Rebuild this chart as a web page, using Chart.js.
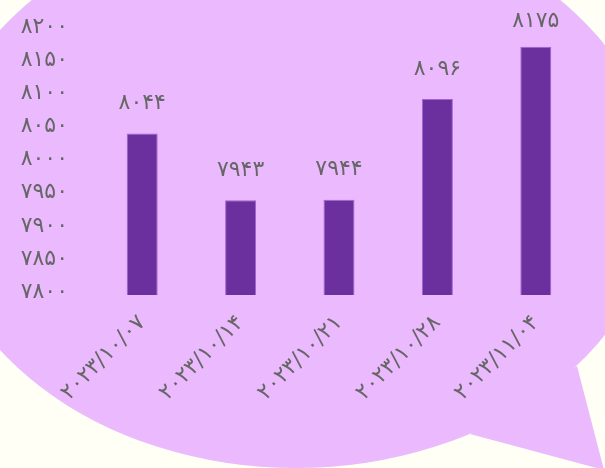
<!DOCTYPE html>
<html>
<head>
<meta charset="utf-8">
<script src="https://cdn.jsdelivr.net/npm/chart.js@4"></script>
<style>
  html, body { margin: 0; padding: 0; background: #fffff5; }
  #wrap { width: 605px; height: 468px; }
</style>
</head>
<body>
<div id="wrap"><canvas id="chart"></canvas></div>
<script>
/* ── Data ── */
const dates = ['۲۰۲۳/۱۰/۰۷', '۲۰۲۳/۱۰/۱۴', '۲۰۲۳/۱۰/۲۱', '۲۰۲۳/۱۰/۲۸', '۲۰۲۳/۱۱/۰۴'];
const values = [8044, 7943, 7944, 8096, 8175];
const yMin = 7800;
const yMax = 8200;
const yStep = 50;

const FONT = '"DejaVu Sans", sans-serif';
const TEXT = '#666666';

// latin digits -> persian digits
function fa(n) {
  return String(n).replace(/[0-9]/g, d => '۰۱۲۳۴۵۶۷۸۹'[d]);
}

/* ── speech bubble behind the chart ── */
const bubble = {
  id: 'bubble',
  beforeDraw(chart) {
    const c = chart.ctx;
    c.save();
    c.fillStyle = '#fffff5';
    c.fillRect(0, 0, chart.width, chart.height);
    c.fillStyle = '#ebb9fd';
    c.beginPath();
    c.ellipse(296, 190, 362, 278, 0, 0, Math.PI * 2);
    c.fill();
    c.beginPath();
    c.moveTo(577, 366);
    c.lineTo(604, 470);
    c.lineTo(470, 434);
    c.lineTo(520, 400);
    c.closePath();
    c.fill();
    c.restore();
  }
};

/* ── value labels above bars ── */
const barValues = {
  id: 'barValues',
  afterDatasetsDraw(chart) {
    const c = chart.ctx;
    const meta = chart.getDatasetMeta(0);
    c.save();
    c.font = '22px ' + FONT;
    c.fillStyle = TEXT;
    c.textAlign = 'center';
    c.textBaseline = 'middle';
    meta.data.forEach((bar, i) => {
      // keep the top label inside the canvas
      c.fillText(fa(values[i]), bar.x, Math.max(bar.y - 30, 21));
    });
    c.restore();
  }
};

new Chart(document.getElementById('chart'), {
  type: 'bar',
  data: {
    labels: dates,
    datasets: [{
      data: values,
      backgroundColor: '#6c2f9e',
      borderColor: '#a262d2',
      borderWidth: 1,
      categoryPercentage: 1,
      barPercentage: 0.315,
    }]
  },
  options: {
    responsive: true, maintainAspectRatio: false,
    animation: false,
    layout: { padding: { top: 19, right: 20, left: 0, bottom: 0 } },
    plugins: { legend: { display: false }, tooltip: { enabled: false } },
    scales: {
      y: {
        min: yMin, max: yMax,
        grid: { display: false }, border: { display: false },
        afterFit: s => { s.width = 93; },
        ticks: {
          stepSize: yStep,
          padding: 17,
          labelOffset: -3,
          color: TEXT,
          font: { family: FONT, size: 22 },
          callback: v => fa(v)
        }
      },
      x: {
        grid: { display: false }, border: { display: false },
        afterFit: s => { s.height = 173; },
        ticks: {
          minRotation: 45, maxRotation: 45,
          padding: 7,
          color: TEXT,
          font: { family: FONT, size: 22 }
        }
      }
    }
  },
  plugins: [bubble, barValues]
});
</script>
</body>
</html>
